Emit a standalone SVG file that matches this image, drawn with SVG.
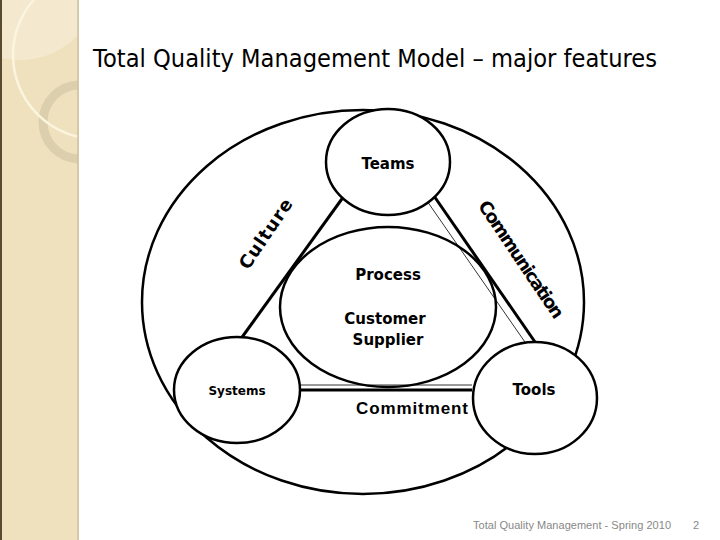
<svg xmlns="http://www.w3.org/2000/svg" width="720" height="540" viewBox="0 0 720 540">
<style>
.n{fill:#fff;stroke:#000;stroke-width:2.5}
.t{font-family:"DejaVu Sans",sans-serif;fill:#000}
.l{stroke:#000;stroke-width:3;fill:none}
</style>
<defs><clipPath id="cp"><rect x="0" y="0" width="78" height="540"/></clipPath></defs>
<rect width="720" height="540" fill="#fff"/>
<rect x="0" y="0" width="79" height="540" fill="#efe1bd"/>
<g clip-path="url(#cp)">
<circle cx="20" cy="-20" r="80" fill="#f6ecd6" opacity="0.7"/>
<circle cx="80" cy="122" r="37" fill="none" stroke="#dccfae" stroke-width="9"/>
<circle cx="97" cy="55" r="84" fill="none" stroke="#fbf4df" stroke-width="2.5"/>
</g>
<line x1="1" y1="0" x2="1" y2="540" stroke="#5a4a30" stroke-width="2"/>
<line x1="78" y1="0" x2="78" y2="540" stroke="#cfc0a0" stroke-width="1.5"/>
<text x="93" y="67" class="t" font-size="24" textLength="564" lengthAdjust="spacingAndGlyphs">Total Quality Management Model – major features</text>
<g id="outer"><ellipse cx="363" cy="302" rx="221" ry="192" class="n" stroke-width="3.5"/></g>
<g id="connectors">
<line x1="240" y1="340" x2="344" y2="196" class="l"/>
<line x1="434" y1="196" x2="535" y2="342" class="l"/>
<line x1="427" y1="201" x2="527" y2="345" stroke="#000" stroke-width="0.8"/>
<line x1="300" y1="390" x2="472" y2="390" class="l"/>
<line x1="300" y1="385" x2="472" y2="385" stroke="#000" stroke-width="0.8"/>
</g>
<g id="process"><ellipse cx="388" cy="307" rx="108" ry="80" class="n" style="fill:none"/>
<text x="388" y="280" class="t" font-size="15" font-weight="600" text-anchor="middle">Process</text>
<text x="385" y="324" class="t" font-size="15" font-weight="600" text-anchor="middle">Customer</text>
<text x="388" y="345" class="t" font-size="15" font-weight="600" text-anchor="middle">Supplier</text></g>
<g id="teams"><ellipse cx="388" cy="162" rx="62" ry="53" class="n"/>
<text x="388" y="169" class="t" font-size="15" font-weight="600" text-anchor="middle">Teams</text></g>
<g id="systems"><ellipse cx="237" cy="390" rx="63" ry="53" class="n"/>
<text x="237" y="395" class="t" font-size="12" font-weight="600" text-anchor="middle">Systems</text></g>
<g id="tools"><ellipse cx="535" cy="398" rx="62" ry="56" class="n"/>
<text x="534" y="395" class="t" font-size="15" font-weight="600" text-anchor="middle">Tools</text></g>
<text x="412" y="414" font-family="Liberation Sans,sans-serif" font-size="17" font-weight="bold" text-anchor="middle" textLength="112">Commitment</text>
<text transform="translate(271,237) rotate(-56)" class="t" font-size="18" font-weight="bold" text-anchor="middle" letter-spacing="1">Culture</text>
<text transform="translate(516,263) rotate(56)" class="t" font-size="18" font-weight="bold" text-anchor="middle" textLength="138">Communication</text>
<text x="473" y="529" font-family="Liberation Sans,sans-serif" font-size="11" fill="#888" textLength="198">Total Quality Management - Spring 2010</text>
<text x="693" y="529" font-family="Liberation Sans,sans-serif" font-size="11" fill="#888">2</text>
</svg>
